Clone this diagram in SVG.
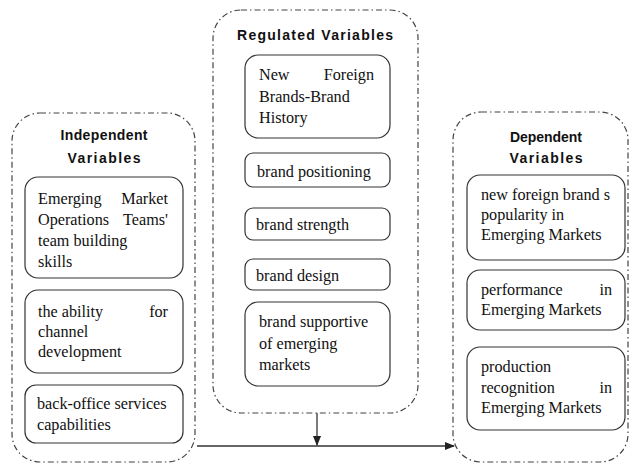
<svg xmlns="http://www.w3.org/2000/svg" width="632" height="463" viewBox="0 0 632 463">
<style>
.cont{fill:none;stroke:#444;stroke-width:1.2;stroke-dasharray:6 3 1.5 3}
.box{fill:#fff;stroke:#333;stroke-width:1.2}
.t{font-family:"Liberation Serif","Times New Roman",serif;font-size:16.2px;fill:#111}
.h{font-family:"Liberation Sans",Arial,sans-serif;font-size:14px;font-weight:bold;fill:#111;text-anchor:middle}
.e{text-anchor:end}
.ln{stroke:#333;stroke-width:1.3;fill:none}
</style>
<defs>
<marker id="ah" markerWidth="10" markerHeight="8" refX="9" refY="4" orient="auto" markerUnits="userSpaceOnUse">
<path d="M0,0 L10,4 L0,8 Z" fill="#222"/>
</marker>
</defs>
<rect width="632" height="463" fill="#fff"/>
<g id="independent">
<rect class="cont" x="12" y="113" width="183" height="349" rx="28"/>
<text class="h" x="104" y="140" textLength="87" lengthAdjust="spacing">Independent</text>
<text class="h" x="104" y="163" textLength="73" lengthAdjust="spacing">Variables</text>
</g>
<g id="iv1">
<rect class="box" x="25" y="177" width="158" height="101" rx="13"/>
<text class="t" x="38" y="204">Emerging</text><text class="t e" x="168" y="204">Market</text>
<text class="t" x="38" y="225">Operations</text><text class="t e" x="168" y="225">Teams'</text>
<text class="t" x="38" y="246">team building</text>
<text class="t" x="38" y="267">skills</text>
</g>
<g id="iv2">
<rect class="box" x="25" y="290" width="158" height="83" rx="13"/>
<text class="t" x="38" y="317">the ability</text><text class="t e" x="168" y="317">for</text>
<text class="t" x="38" y="337">channel</text>
<text class="t" x="38" y="357">development</text>
</g>
<g id="iv3">
<rect class="box" x="25" y="385" width="158" height="58" rx="11"/>
<text class="t" x="37" y="409">back-office services</text>
<text class="t" x="37" y="430">capabilities</text>
</g>
<g id="regulated">
<rect class="cont" x="213" y="10" width="205" height="403" rx="28"/>
<text class="h" x="315" y="40" textLength="156" lengthAdjust="spacing">Regulated Variables</text>
</g>
<g id="rv1">
<rect class="box" x="245" y="55" width="145" height="83" rx="13"/>
<text class="t" x="259" y="80">New</text><text class="t e" x="374" y="80">Foreign</text>
<text class="t" x="259" y="102">Brands-Brand</text>
<text class="t" x="259" y="123">History</text>
</g>
<g id="rv2">
<rect class="box" x="245" y="153" width="145" height="34" rx="8"/>
<text class="t" x="257" y="177">brand positioning</text>
</g>
<g id="rv3">
<rect class="box" x="245" y="208" width="145" height="32" rx="8"/>
<text class="t" x="256" y="230">brand strength</text>
</g>
<g id="rv4">
<rect class="box" x="245" y="259" width="145" height="31" rx="8"/>
<text class="t" x="256" y="281">brand design</text>
</g>
<g id="rv5">
<rect class="box" x="245" y="302" width="145" height="84" rx="13"/>
<text class="t" x="259" y="327">brand supportive</text>
<text class="t" x="259" y="349">of emerging</text>
<text class="t" x="259" y="370">markets</text>
</g>
<g id="dependent">
<rect class="cont" x="453" y="112" width="175" height="350" rx="28"/>
<text class="h" x="546" y="142" textLength="72" lengthAdjust="spacing">Dependent</text>
<text class="h" x="546" y="163" textLength="73" lengthAdjust="spacing">Variables</text>
</g>
<g id="dv1">
<rect class="box" x="467" y="175" width="158" height="85" rx="13"/>
<text class="t" x="481" y="200">new foreign brand s</text>
<text class="t" x="481" y="220">popularity in</text>
<text class="t" x="481" y="240">Emerging Markets</text>
</g>
<g id="dv2">
<rect class="box" x="467" y="270" width="158" height="60" rx="13"/>
<text class="t" x="481" y="295">performance</text><text class="t e" x="612" y="295">in</text>
<text class="t" x="481" y="315">Emerging Markets</text>
</g>
<g id="dv3">
<rect class="box" x="467" y="347" width="158" height="83" rx="13"/>
<text class="t" x="481" y="372">production</text>
<text class="t" x="481" y="393">recognition</text><text class="t e" x="612" y="393">in</text>
<text class="t" x="481" y="413">Emerging Markets</text>
</g>
<g id="connectors">
<line class="ln" x1="197" y1="446" x2="454" y2="446" marker-end="url(#ah)"/>
<line class="ln" x1="317" y1="413" x2="317" y2="445" marker-end="url(#ah)"/>
</g>
</svg>
